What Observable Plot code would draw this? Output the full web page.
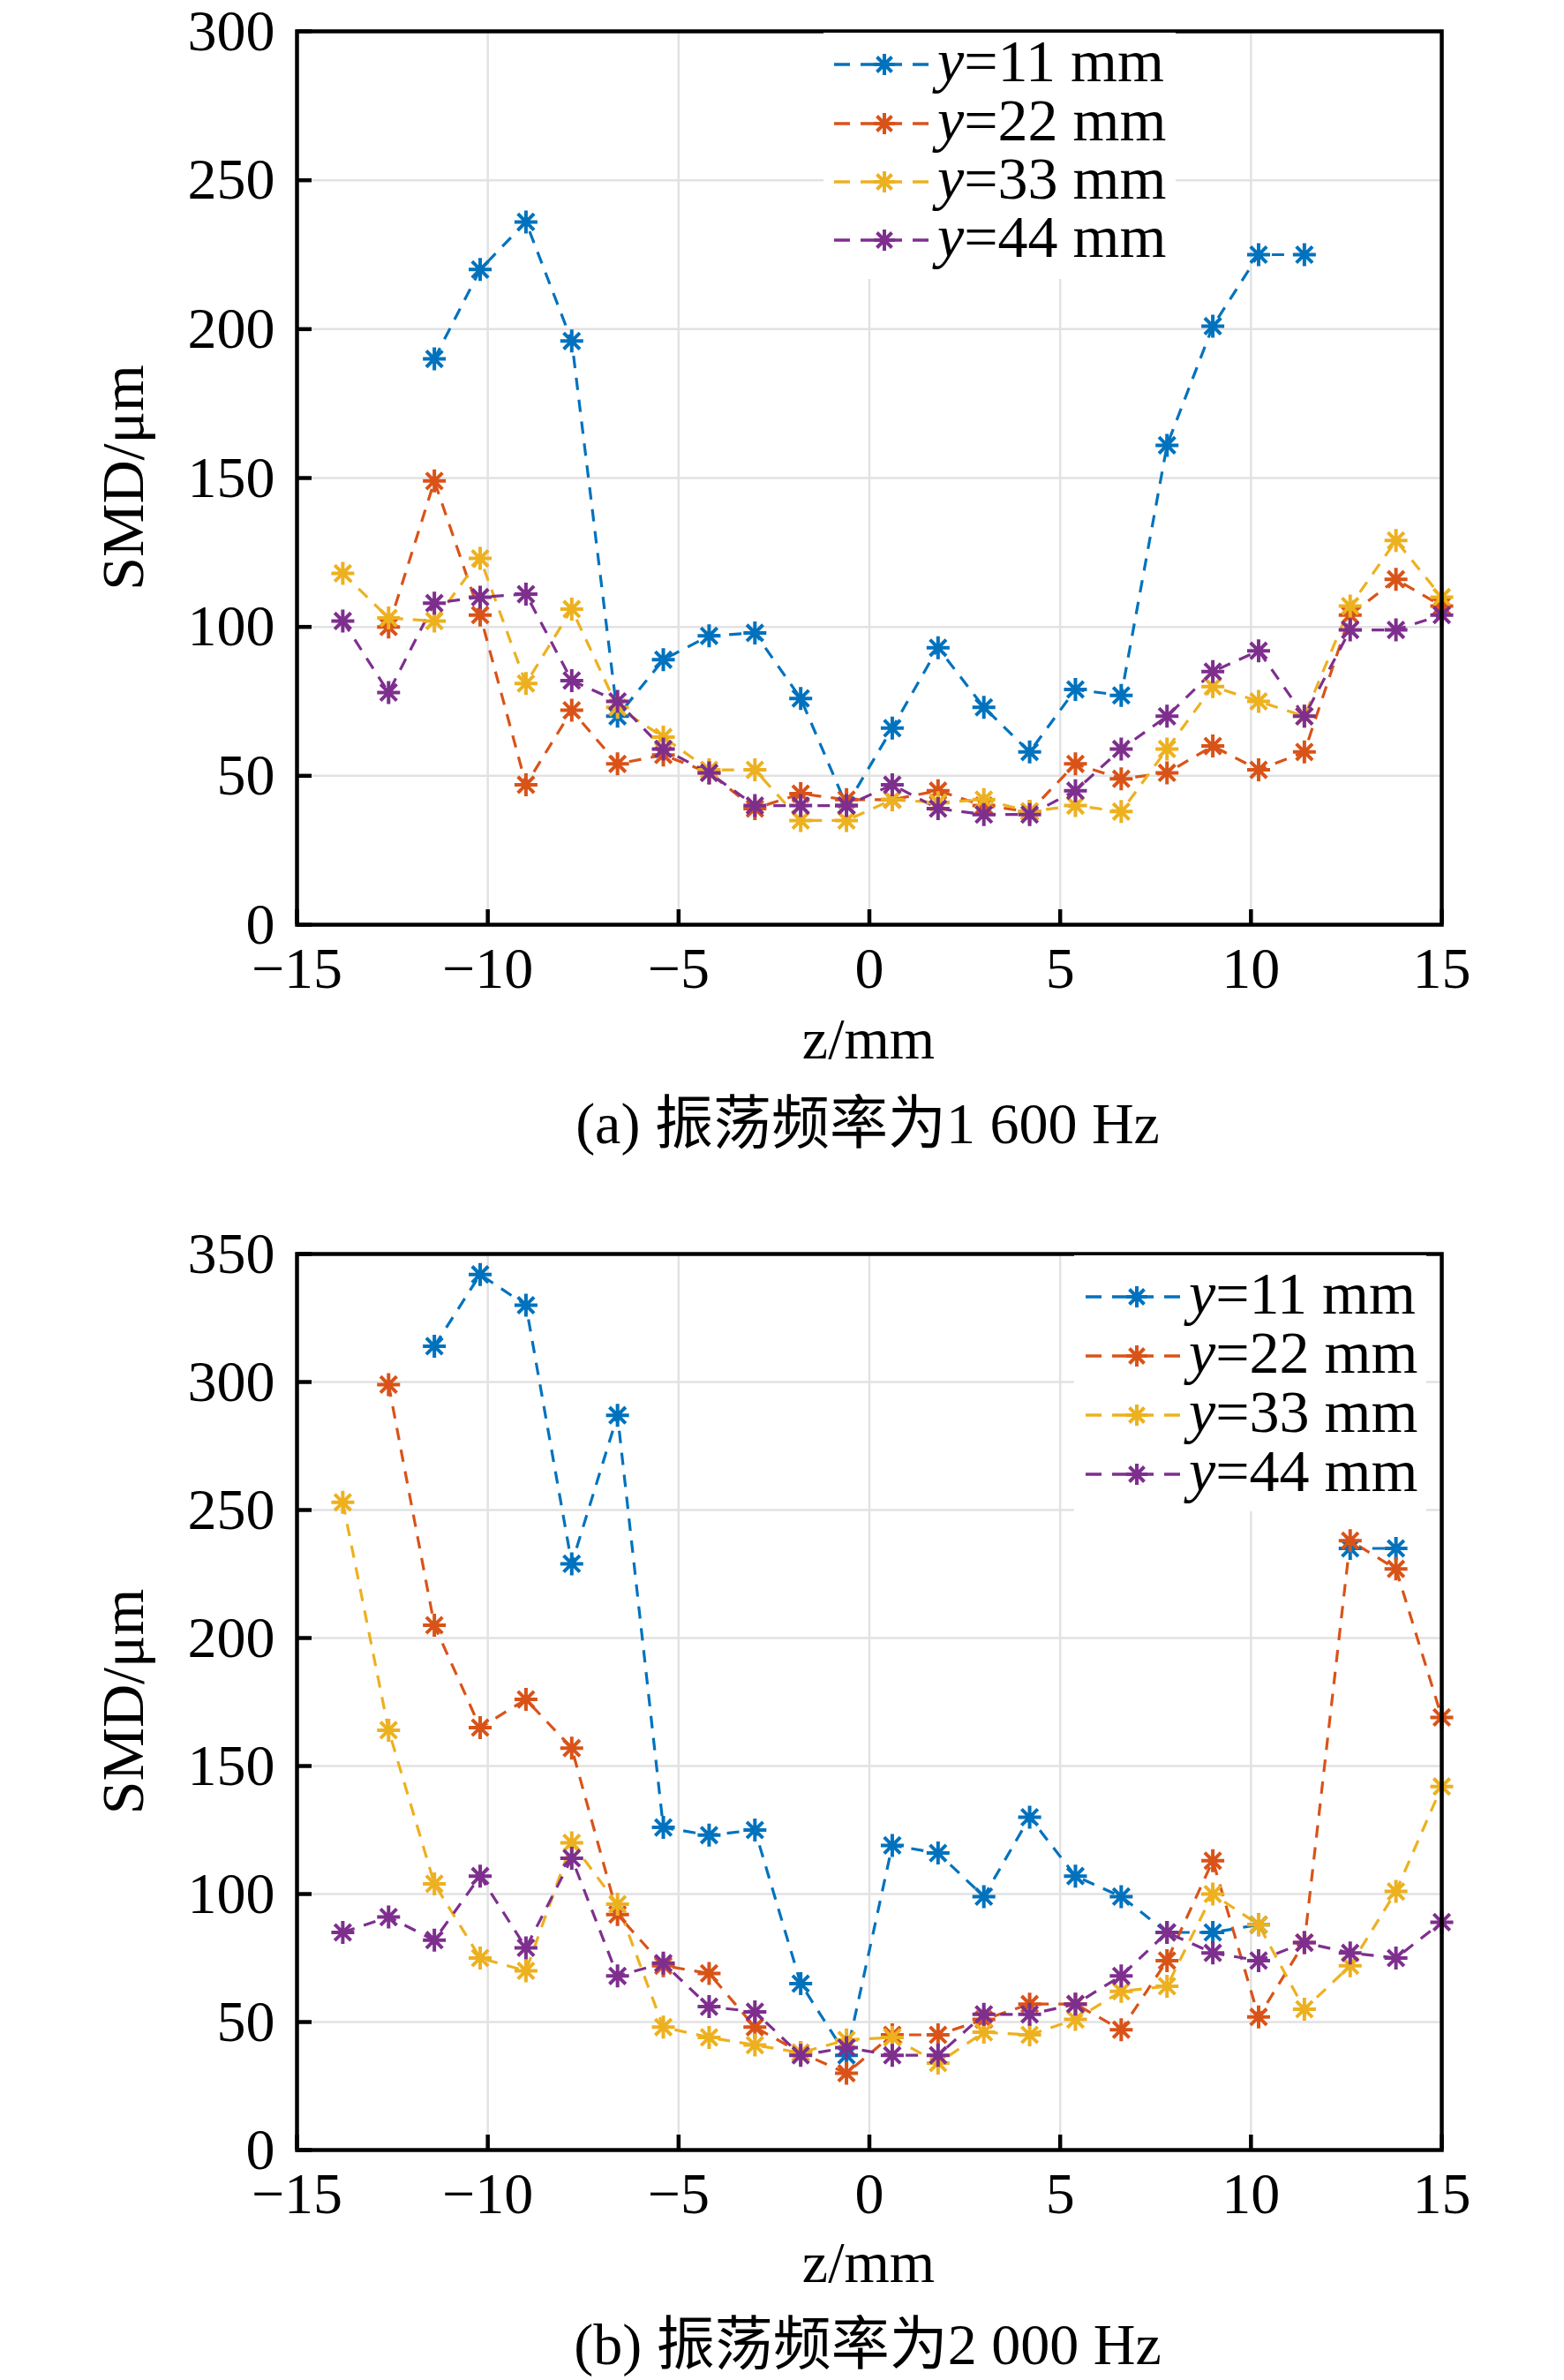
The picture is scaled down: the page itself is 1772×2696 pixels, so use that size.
<!DOCTYPE html>
<html>
<head>
<meta charset="utf-8">
<script src="https://cdn.jsdelivr.net/npm/d3@7"></script>
<script src="https://cdn.jsdelivr.net/npm/@observablehq/plot@0.6"></script>
<style>
  html, body { margin: 0; padding: 0; background: #fff; }
  #page { position: relative; width: 1772px; height: 2696px; background: #fff; overflow: hidden; }
  #page svg { position: absolute; left: 0; }
</style>
</head>
<body>
<div id="page"></div>
<script>
// ---- data ----
const Z = [-13.8, -12.6, -11.4, -10.2, -9.0, -7.8, -6.6, -5.4, -4.2, -3.0, -1.8, -0.6,
           0.6, 1.8, 3.0, 4.2, 5.4, 6.6, 7.8, 9.0, 10.2, 11.4, 12.6, 13.8, 15.0];
const SERIES = ["y=11 mm", "y=22 mm", "y=33 mm", "y=44 mm"];
const SERIES_NUM = ["11", "22", "33", "44"];
const COLORS = ["#0072BD", "#D95319", "#EDB120", "#7E2F8E"];
const X_TICKS = [-15, -10, -5, 0, 5, 10, 15];
const Y_TICKS_A = [0, 50, 100, 150, 200, 250, 300];
const Y_TICKS_B = [0, 50, 100, 150, 200, 250, 300, 350];

// (a) 1 600 Hz
const A_Y11 = [null, null, 190, 220, 236, 196, 70, 89, 97, 98, 76, 40, 66, 93, 73, 58, 79, 77, 161, 201, 225, 225, null, null, null];
const A_Y22 = [null, 100, 149, 104, 47, 72, 54, 57, 51, 39, 44, 42, 42, 45, 40, 38, 54, 49, 51, 60, 52, 58, 104, 116, 107];
const A_Y33 = [118, 103, 102, 123, 81, 106, 73, 63, 52, 52, 35, 35, 42, 41, 42, 38, 40, 38, 59, 80, 75, 70, 107, 129, 110];
const A_Y44 = [102, 78, 108, 110, 111, 82, 75, 59, 51, 40, 40, 40, 47, 39, 37, 37, 45, 59, 70, 85, 92, 70, 99, 99, 104];

// (b) 2 000 Hz
const B_Y11 = [null, null, 314, 342, 330, 229, 287, 126, 123, 125, 65, 37, 119, 116, 99, 130, 107, 99, 85, 85, 88, null, 235, 235, null];
const B_Y22 = [null, 299, 205, 165, 176, 157, 92, 72, 69, 48, 38, 30, 45, 45, 51, 57, 57, 47, 74, 113, 52, 81, 238, 227, 169];
const B_Y33 = [253, 164, 104, 75, 70, 120, 96, 48, 44, 41, 38, 43, 44, 34, 46, 45, 51, 62, 64, 100, 88, 55, 72, 101, 142];
const B_Y44 = [85, 91, 82, 107, 79, 114, 68, 73, 56, 54, 37, 40, 37, 37, 53, 53, 57, 68, 85, 77, 74, 81, 77, 75, 89];

const CAPTION_A = "(a) 振荡频率为1 600 Hz";
const CAPTION_B = "(b) 振荡频率为2 000 Hz";
const X_LABEL = "z/mm";
const Y_LABEL = "SMD/μm";

// ---- helpers ----
function toRows(arrays) {
  const out = [];
  arrays.forEach((arr, k) => arr.forEach((v, i) => out.push({z: Z[i], v: v, s: SERIES[k]})));
  return out;
}

// MATLAB-style "*" marker: + and x combined
const star8 = {
  draw(ctx, size) {
    const r = Math.sqrt(size / Math.PI);
    const d = r * Math.SQRT1_2;
    ctx.moveTo(-r, 0); ctx.lineTo(r, 0);
    ctx.moveTo(0, -r); ctx.lineTo(0, r);
    ctx.moveTo(-d, -d); ctx.lineTo(d, d);
    ctx.moveTo(-d, d); ctx.lineTo(d, -d);
  }
};
function starPath(r) {
  const p = d3.path();
  star8.draw(p, r * r * Math.PI);
  return p.toString();
}

const FONT = "'Liberation Serif', 'Times New Roman', 'Noto Sans CJK SC', serif";
const W = 1772, H = 1348;
const LEFT = 336, RIGHT = 1633;

function panel(cfg) {
  const plotW = RIGHT - LEFT;
  const plotH = H - cfg.marginTop - cfg.marginBottom;
  const data = toRows(cfg.arrays);
  const svg = Plot.plot({
    width: W, height: H,
    marginLeft: LEFT, marginRight: W - RIGHT,
    marginTop: cfg.marginTop, marginBottom: cfg.marginBottom,
    style: {fontFamily: FONT, fontSize: "66px", background: "white", color: "black", overflow: "visible"},
    x: {domain: [-15, 15]},
    y: {domain: [0, cfg.ymax]},
    color: {domain: SERIES, range: COLORS},
    marks: [
      Plot.gridX(X_TICKS, {stroke: "#e2e2e2", strokeOpacity: 1, strokeWidth: 2.5}),
      Plot.gridY(cfg.yTicks, {stroke: "#e2e2e2", strokeOpacity: 1, strokeWidth: 2.5}),
      Plot.lineY(data, {x: "z", y: "v", z: "s", stroke: "s", strokeWidth: 3.2, strokeDasharray: "14,11", strokeLinecap: "butt"}),
      Plot.dot(data, {x: "z", y: "v", stroke: "s", fill: "none", symbol: star8, r: 13, strokeWidth: 4}),
      Plot.tickY(cfg.yTicks, {y: d => d, insetRight: plotW - 17, stroke: "black", strokeWidth: 4.5}),
      Plot.tickX(X_TICKS, {x: d => d, insetTop: plotH - 17, stroke: "black", strokeWidth: 4.5}),
      Plot.frame({stroke: "black", strokeWidth: 4.5}),
      Plot.axisX(X_TICKS, {tickSize: 0, tickPadding: 25, label: null, fontSize: 66}),
      Plot.axisY(cfg.yTicks, {tickSize: 0, tickPadding: 25, label: null, fontSize: 66})
    ]
  });
  svg.style.top = cfg.top + "px";
  const s = d3.select(svg);

  // legend
  const L = cfg.legend;
  const g = s.append("g").attr("text-anchor", "start");
  g.append("rect").attr("x", L.boxX).attr("y", L.boxY).attr("width", L.boxW).attr("height", L.boxH).attr("fill", "white");
  SERIES.forEach((name, k) => {
    const ly = L.rowY[k];
    g.append("line").attr("x1", L.symX0).attr("x2", L.symX1).attr("y1", ly).attr("y2", ly)
      .attr("stroke", COLORS[k]).attr("stroke-width", 3.5).attr("stroke-dasharray", "18,12,47,12,18");
    g.append("path").attr("d", starPath(12)).attr("transform", `translate(${L.markX},${ly})`)
      .attr("stroke", COLORS[k]).attr("stroke-width", 4).attr("fill", "none");
    const t = g.append("text").attr("x", L.textX).attr("y", ly + 19).attr("text-anchor", "start")
      .attr("font-family", FONT).attr("font-size", 68).attr("fill", "black");
    t.append("tspan").attr("font-style", "italic").text("y");
    t.append("tspan").text("=" + SERIES_NUM[k] + " mm");
  });

  // axis labels and caption
  s.append("text").attr("x", 984).attr("y", cfg.xLabelY).attr("text-anchor", "middle")
    .attr("font-family", FONT).attr("font-size", 66).attr("fill", "black").text(X_LABEL);
  const yc = cfg.marginTop + plotH / 2;
  s.append("text").attr("transform", `translate(162,${yc}) rotate(-90)`).attr("text-anchor", "middle")
    .attr("font-family", FONT).attr("font-size", 68).attr("fill", "black").text(Y_LABEL);
  s.append("text").attr("x", 983).attr("y", cfg.captionY).attr("text-anchor", "middle")
    .attr("font-family", FONT).attr("font-size", 66).attr("fill", "black").text(cfg.caption);
  return svg;
}

const page = document.getElementById("page");
page.appendChild(panel({
  top: 0, marginTop: 35, marginBottom: H - 1047, ymax: 300, yTicks: Y_TICKS_A,
  arrays: [A_Y11, A_Y22, A_Y33, A_Y44],
  legend: {boxX: 933, boxY: 37, boxW: 399, boxH: 279, symX0: 945, symX1: 1052, markX: 1002, textX: 1062, rowY: [73, 140, 206, 272]},
  xLabelY: 1199, captionY: 1295, caption: CAPTION_A
}));
page.appendChild(panel({
  top: 1348, marginTop: 1420 - 1348, marginBottom: H - (2435 - 1348), ymax: 350, yTicks: Y_TICKS_B,
  arrays: [B_Y11, B_Y22, B_Y33, B_Y44],
  legend: {boxX: 1217, boxY: 74, boxW: 399, boxH: 290, symX0: 1230, symX1: 1337, markX: 1288, textX: 1347, rowY: [121, 188, 255, 322]},
  xLabelY: 2585 - 1348, captionY: 2678 - 1348, caption: CAPTION_B
}));
</script>
</body>
</html>
